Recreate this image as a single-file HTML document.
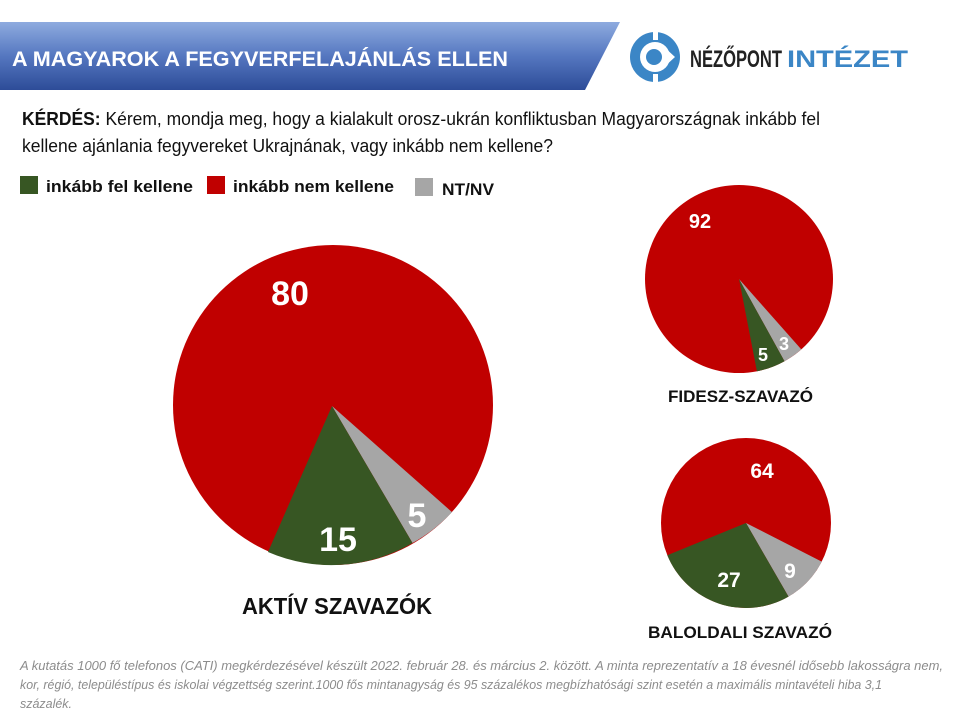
<!DOCTYPE html>
<html><head><meta charset="utf-8"><style>
html,body{margin:0;padding:0;background:#fff;width:960px;height:720px;overflow:hidden}
svg{display:block}
text{font-family:"Liberation Sans Narrow","Liberation Sans",sans-serif}
</style></head><body>
<svg width="960" height="720" viewBox="0 0 960 720" xmlns="http://www.w3.org/2000/svg">
<defs>
<linearGradient id="hg" x1="0" y1="0" x2="0" y2="1">
<stop offset="0" stop-color="#8eabdf"/><stop offset="0.5" stop-color="#5577c0"/><stop offset="1" stop-color="#2d4c98"/>
</linearGradient>
</defs>
<polygon points="0,22 620,22 585,90 0,90" fill="url(#hg)"/>
<text x="12" y="66" font-size="21" font-weight="bold" fill="#fff" textLength="496" lengthAdjust="spacingAndGlyphs">A MAGYAROK A FEGYVERFELAJÁNLÁS ELLEN</text>
<!-- logo -->
<circle cx="655" cy="57" r="25" fill="#3b86c6"/>
<circle cx="655" cy="57" r="15" fill="#fff"/>
<circle cx="654" cy="57" r="8" fill="#3b86c6"/>
<rect x="653" y="30" width="5" height="10" fill="#fff"/>
<rect x="653" y="74" width="5" height="10" fill="#fff"/>
<polygon points="662,45 675,57 662,69 667,57" fill="#fff"/>
<text x="690" y="67" font-size="24" font-weight="bold" fill="#222" textLength="92" lengthAdjust="spacingAndGlyphs">NÉZŐPONT</text>
<text x="787" y="67" font-size="24" font-weight="bold" fill="#3b86c6" textLength="121" lengthAdjust="spacingAndGlyphs">INTÉZET</text>
<!-- question -->
<text x="22" y="125" font-size="18" fill="#111" textLength="798" lengthAdjust="spacingAndGlyphs"><tspan font-weight="bold">KÉRDÉS:</tspan>  Kérem, mondja meg,  hogy a kialakult orosz-ukrán konfliktusban Magyarországnak inkább fel</text>
<text x="22" y="152" font-size="18" fill="#111" textLength="531" lengthAdjust="spacingAndGlyphs">kellene ajánlania fegyvereket Ukrajnának, vagy inkább nem kellene?</text>
<!-- legend -->
<rect x="20" y="176" width="18" height="18" fill="#375623"/>
<text x="46" y="192" font-size="17" font-weight="bold" fill="#111" textLength="147" lengthAdjust="spacingAndGlyphs">inkább fel kellene</text>
<rect x="207" y="176" width="18" height="18" fill="#c00000"/>
<text x="233" y="192" font-size="17" font-weight="bold" fill="#111" textLength="161" lengthAdjust="spacingAndGlyphs">inkább nem kellene</text>
<rect x="415" y="178" width="18" height="18" fill="#a6a6a6"/>
<text x="442" y="195" font-size="17" font-weight="bold" fill="#111" textLength="52" lengthAdjust="spacingAndGlyphs">NT/NV</text>
<!-- main pie -->
<circle cx="333" cy="405" r="160" fill="#c00000"/>
<path d="M332,406 L452.0,512.1 A160,160 0 0 1 412.5,543.0 Z" fill="#a6a6a6"/>
<path d="M332,406 L412.5,543.0 A160,160 0 0 1 268,552 Z" fill="#375623"/>
<text x="290" y="305" font-size="34" font-weight="bold" fill="#fff" text-anchor="middle" font-family="Liberation Sans">80</text>
<text x="338" y="551" font-size="34" font-weight="bold" fill="#fff" text-anchor="middle" font-family="Liberation Sans">15</text>
<text x="417" y="527" font-size="34" font-weight="bold" fill="#fff" text-anchor="middle" font-family="Liberation Sans">5</text>
<text x="242" y="614" font-size="23" font-weight="bold" fill="#111" textLength="190" lengthAdjust="spacingAndGlyphs">AKTÍV SZAVAZÓK</text>
<!-- fidesz -->
<circle cx="739" cy="279" r="94" fill="#c00000"/>
<path d="M739,279 L801.3,349.4 A94,94 0 0 1 784.5,361.2 Z" fill="#a6a6a6"/>
<path d="M739,279 L784.5,361.2 A94,94 0 0 1 756.9,371.3 Z" fill="#375623"/>
<text x="700" y="228" font-size="20" font-weight="bold" fill="#fff" text-anchor="middle" font-family="Liberation Sans">92</text>
<text x="763" y="361" font-size="18" font-weight="bold" fill="#fff" text-anchor="middle" font-family="Liberation Sans">5</text>
<text x="784" y="350" font-size="18" font-weight="bold" fill="#fff" text-anchor="middle" font-family="Liberation Sans">3</text>
<text x="668" y="402" font-size="17" font-weight="bold" fill="#111" textLength="145" lengthAdjust="spacingAndGlyphs">FIDESZ-SZAVAZÓ</text>
<!-- baloldali -->
<circle cx="746" cy="523" r="85" fill="#c00000"/>
<path d="M746,523 L821.7,561.6 A85,85 0 0 1 788.5,596.6 Z" fill="#a6a6a6"/>
<path d="M746,523 L788.5,596.6 A85,85 0 0 1 667.3,555.2 Z" fill="#375623"/>
<text x="762" y="478" font-size="21" font-weight="bold" fill="#fff" text-anchor="middle" font-family="Liberation Sans">64</text>
<text x="729" y="587" font-size="21" font-weight="bold" fill="#fff" text-anchor="middle" font-family="Liberation Sans">27</text>
<text x="790" y="578" font-size="21" font-weight="bold" fill="#fff" text-anchor="middle" font-family="Liberation Sans">9</text>
<text x="648" y="638" font-size="17" font-weight="bold" fill="#111" textLength="184" lengthAdjust="spacingAndGlyphs">BALOLDALI SZAVAZÓ</text>
<!-- footnote -->
<g font-size="12.5" font-style="italic" fill="#8c8c8c">
<text x="20" y="670" textLength="923" lengthAdjust="spacingAndGlyphs">A kutatás 1000 fő telefonos (CATI) megkérdezésével  készült 2022. február 28. és március 2. között.  A minta reprezentatív  a 18 évesnél idősebb lakosságra nem,</text>
<text x="20" y="689" textLength="862" lengthAdjust="spacingAndGlyphs">kor, régió, településtípus  és iskolai végzettség  szerint.1000 fős mintanagyság és 95 százalékos megbízhatósági szint esetén a maximális mintavételi hiba 3,1</text>
<text x="20" y="708" textLength="52" lengthAdjust="spacingAndGlyphs">százalék.</text>
</g>
</svg>
</body></html>
